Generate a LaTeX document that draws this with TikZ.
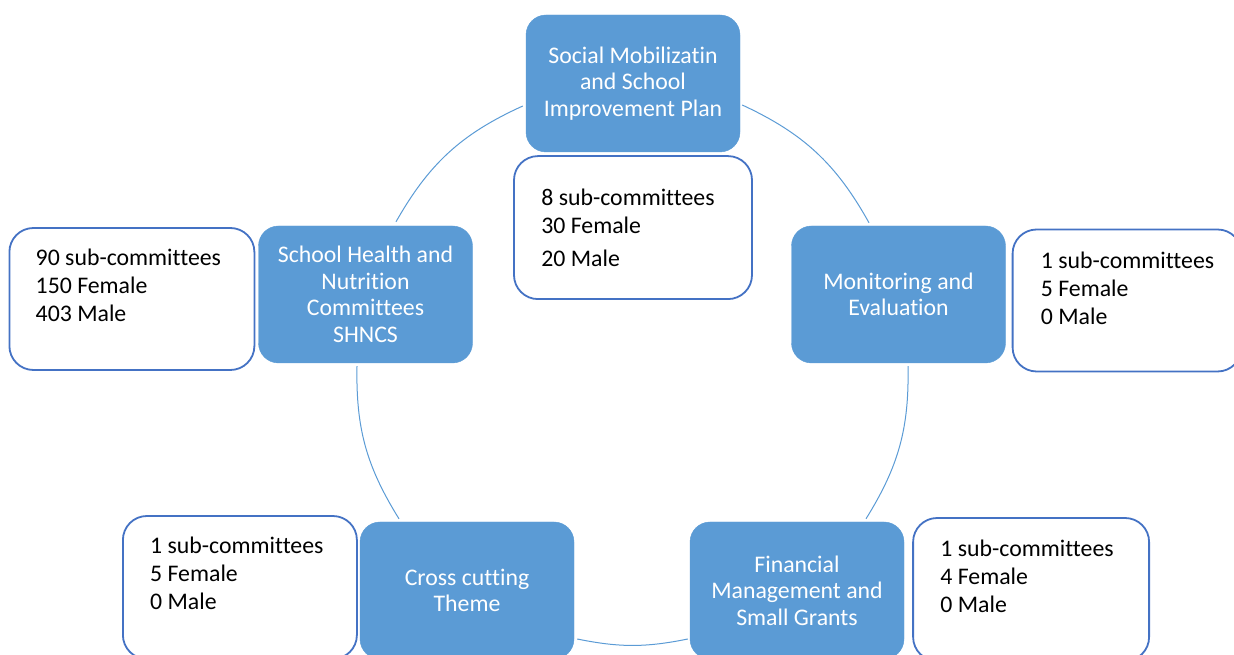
\documentclass[tikz,border=0pt]{standalone}
\usepackage{fontspec}
\setmainfont{Carlito}[Ligatures={TeX,NoCommon}]
\usepackage{tikz}
\usetikzlibrary{positioning}
\definecolor{cyc}{HTML}{5B9BD5}
\definecolor{frame}{HTML}{4472C4}
\tikzset{
  phase/.style={rectangle,rounded corners=20pt,fill=cyc,draw=cyc,text=white,
    minimum width=214pt,minimum height=137pt,align=center,
    font=\fontsize{23.8}{26.5}\selectfont},
  statbox/.style={rectangle,rounded corners=24pt,draw=frame,line width=1.8pt,fill=white,
    minimum height=142pt},
  stattxt/.style={inner sep=0pt,align=left,font=\fontsize{23.8}{28}\selectfont},
  ring/.style={draw=cyc,line width=1pt},
}
\begin{document}
\begin{tikzpicture}[x=1pt,y=1pt,node distance=3pt]
\useasboundingbox (0,0) rectangle (1234,655);
% the five committees round the cycle
\node[phase] (plan) at (633,571.5) {Social Mobilizatin\\and School\\Improvement Plan};
\node[phase] (shn) at (365.5,360.5) {School Health and\\Nutrition\\Committees\\SHNCS};
\node[phase] (me) at (898.5,360.5) {Monitoring and\\Evaluation};
\node[phase] (cross) at (467,64.5) {Cross cutting\\Theme};
\node[phase] (fin) at (797,64.5) {Financial\\Management and\\Small Grants};
% arc ends, just off each box
\coordinate (a1) at ([shift={(2pt,-21.5pt)}]plan.east);
\coordinate (a2) at ([shift={(-29.5pt,3pt)}]me.north);
\coordinate (b1) at ([shift={(9.5pt,-3pt)}]me.south);
\coordinate (b2) at ([shift={(69pt,3pt)}]fin.north);
\coordinate (c1) at ([shift={(-2pt,-48.5pt)}]fin.west);
\coordinate (c2) at ([shift={(3pt,-48.5pt)}]cross.east);
\coordinate (d1) at ([shift={(-68pt,3pt)}]cross.north);
\coordinate (d2) at ([shift={(-8.5pt,-3pt)}]shn.south);
\coordinate (e1) at ([shift={(30.5pt,4pt)}]shn.north);
\coordinate (e2) at ([shift={(-3pt,-22.5pt)}]plan.west);
\draw[ring] (a1) to[bend left=18] (a2);
\draw[ring] (b1) to[bend left=16.5] (b2);
\draw[ring] (c1) to[bend left=11.5] (c2);
\draw[ring] (d1) to[bend left=16.5] (d2);
\draw[ring] (e1) to[bend left=18] (e2);
% member counts beside each committee
\node[statbox,below=of plan,minimum width=238pt,minimum height=143pt] (plan-box) {};
\node[statbox,left=of shn,yshift=-4.5pt,minimum width=245pt] (shn-box) {};
\node[statbox,right=6pt of me,yshift=-6pt,minimum width=229pt] (me-box) {};
\node[statbox,left=2pt of cross,yshift=3pt,minimum width=234pt,minimum height=143pt] (cross-box) {};
\node[statbox,right=8pt of fin,yshift=1pt,minimum width=236pt,minimum height=143pt] (fin-box) {};
\node[stattxt,below right=34pt and 28pt of plan-box.north west] (plan-txt) {8 sub-committees\\30 Female\\[5pt]20 Male};
\node[stattxt,below right=22pt and 27pt of shn-box.north west] (shn-txt) {90 sub-committees\\150 Female\\403 Male};
\node[stattxt,below right=23pt and 29pt of me-box.north west] (me-txt) {1 sub-committees\\5 Female\\0 Male};
\node[stattxt,below right=22pt and 28pt of cross-box.north west] (cross-txt) {1 sub-committees\\5 Female\\0 Male};
\node[stattxt,below right=23pt and 28pt of fin-box.north west] (fin-txt) {1 sub-committees\\4 Female\\0 Male};
\end{tikzpicture}
\end{document}
